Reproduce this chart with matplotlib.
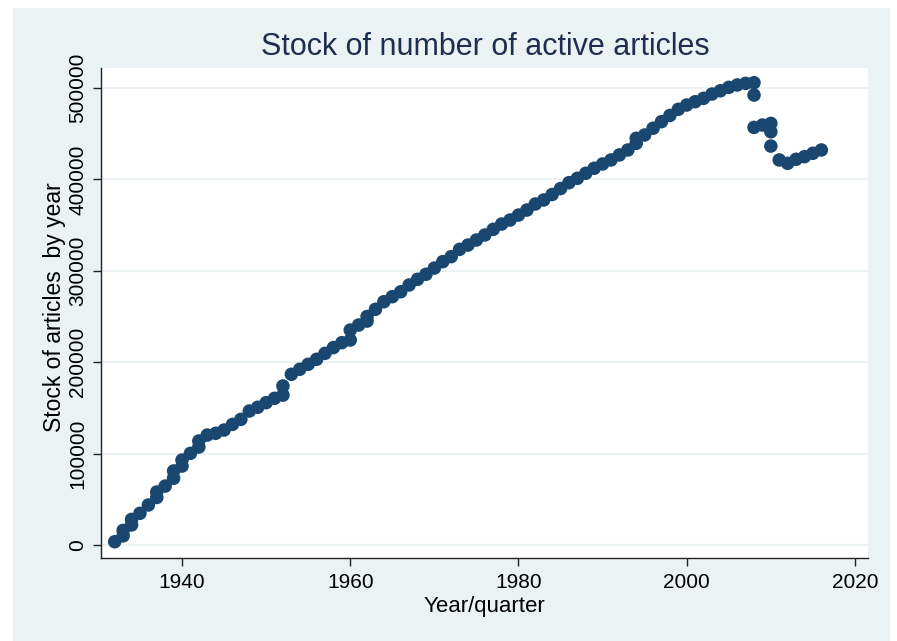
import matplotlib
matplotlib.use("Agg")
import matplotlib.pyplot as plt
from matplotlib.patches import Rectangle

plt.rcParams['font.family'] = ['Liberation Sans', 'DejaVu Sans']

# ---- data ----
years = [1932, 1933, 1933, 1934, 1934, 1935, 1936, 1937, 1937, 1938,
         1939, 1939, 1940, 1940, 1941, 1942, 1942, 1943, 1944, 1945,
         1946, 1947, 1948, 1949, 1950, 1951, 1952, 1952, 1953, 1954,
         1955, 1956, 1957, 1958, 1959, 1960, 1960, 1961, 1962, 1962,
         1963, 1964, 1965, 1966, 1967, 1968, 1969, 1970, 1971, 1972,
         1973, 1974, 1975, 1976, 1977, 1978, 1979, 1980, 1981, 1982,
         1983, 1984, 1985, 1986, 1987, 1988, 1989, 1990, 1991, 1992,
         1993, 1994, 1994, 1995, 1996, 1997, 1998, 1999, 2000, 2001,
         2002, 2003, 2004, 2005, 2006, 2007, 2008, 2008, 2008, 2009,
         2010, 2010, 2010, 2011, 2012, 2013, 2014, 2015, 2016]
stock = [3600, 10000, 16000, 22000, 28000, 34700, 43800, 52000, 58000, 64500,
         73000, 81000, 86400, 93000, 100300, 107200, 113800, 120300, 122200, 125800,
         132000, 137500, 146600, 150700, 155700, 160500, 164000, 174000, 186800, 192300,
         197700, 203200, 209700, 216000, 221400, 224300, 235200, 240700, 245000, 250000,
         257900, 266200, 271700, 277100, 284500, 290700, 296200, 303000, 310000, 315500,
         323500, 328200, 333700, 339200, 345400, 351200, 355600, 361000, 366500, 373100,
         377500, 383500, 390000, 396400, 401200, 406700, 412200, 416900, 421300, 426800,
         432200, 439500, 445000, 448600, 456000, 463200, 470000, 476700, 481400, 485000,
         488700, 493400, 497000, 500700, 503300, 505100, 505800, 492300, 456900, 459500,
         461300, 452200, 436500, 421300, 417600, 422000, 424900, 428600, 432200]

x_ticks = [1940, 1960, 1980, 2000, 2020]
y_ticks = [0, 100000, 200000, 300000, 400000, 500000]

title = "Stock of number of active articles"
x_label = "Year/quarter"
y_label = "Stock of articles  by year"

# ---- styling ----
W, H = 897, 641
fig = plt.figure(figsize=(W / 100, H / 100), dpi=100, facecolor='white')
panel_col = '#EAF2F3'
fig.patches.append(Rectangle((13 / W, 0), (890 - 13) / W, (641 - 8) / H,
                             transform=fig.transFigure, facecolor=panel_col,
                             edgecolor='none', zorder=-10))

ax = fig.add_axes([101 / W, 1 - 558 / H, (868 - 101) / W, (558 - 68) / H])
ax.set_facecolor('white')

ax.scatter(years, stock, s=95, color='#1a476f', edgecolors='none', zorder=3)

ax.set_xlim(1930.37, 2021.55)
ax.set_ylim(-14200, 521900)
ax.set_xticks(x_ticks)
ax.set_yticks(y_ticks)
ax.set_xticklabels([str(t) for t in x_ticks], fontsize=15)
ax.set_yticklabels([str(t) for t in y_ticks], fontsize=15, rotation=90, va='center')

ax.grid(axis='y', color=panel_col, linewidth=1.6, zorder=0)
ax.set_axisbelow(True)
for side in ['top', 'right']:
    ax.spines[side].set_visible(False)
for side in ['left', 'bottom']:
    ax.spines[side].set_color('#222222')
    ax.spines[side].set_linewidth(1.0)
ax.tick_params(axis='both', direction='out', length=6, width=1, color='#222222',
               labelcolor='black')
ax.tick_params(axis='x', pad=5)
ax.tick_params(axis='y', pad=4)

ax.set_xlabel(x_label, fontsize=16, labelpad=3)
ax.set_ylabel(y_label, fontsize=16.5, labelpad=3)
ax.yaxis.set_label_coords(-0.045, 0.512)
fig.text(485 / W, 1 - 47 / H, title, fontsize=22, color='#1e2e50',
         ha='center', va='center')

fig.savefig('out.png', dpi=100, facecolor='white')
